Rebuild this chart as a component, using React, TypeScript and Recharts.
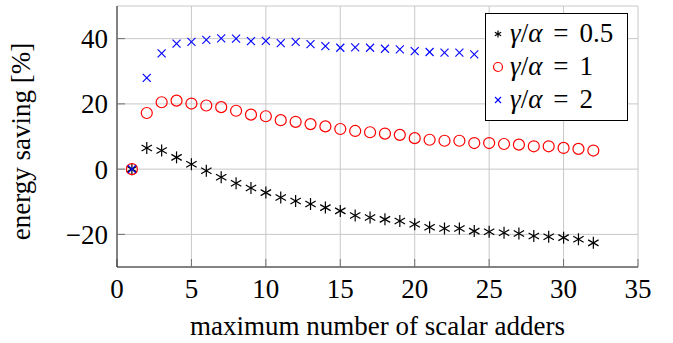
import { ScatterChart, Scatter, XAxis, YAxis, CartesianGrid, Legend } from 'recharts';

const FONT = 'Liberation Serif, Tinos, Times New Roman, Nimbus Roman, DejaVu Serif, serif';

// maximum number of scalar adders (x)
const adders = [1, 2, 3, 4, 5, 6, 7, 8, 9, 10, 11, 12, 13, 14, 15, 16, 17, 18, 19, 20, 21, 22, 23, 24, 25, 26, 27, 28, 29, 30, 31, 32];

// energy saving [%] for each gamma/alpha ratio
const ratio05 = [0, 6.5, 5.7, 3.6, 1.5, -0.5, -2.5, -4.3, -5.8, -7.2, -8.7, -9.8, -10.7, -11.8, -12.8, -14.2, -14.8, -15.4, -15.9, -16.9, -17.8, -18.2, -18.2, -19.0, -19.2, -19.5, -19.7, -20.5, -20.7, -21.0, -21.5, -22.6];
const ratio1 = [0, 17.2, 20.5, 21.0, 20.1, 19.5, 19.0, 17.9, 16.7, 16.2, 15.0, 14.5, 13.8, 13.1, 12.3, 11.7, 11.3, 10.9, 10.5, 9.5, 9.0, 8.7, 8.7, 8.0, 8.0, 7.7, 7.5, 7.0, 7.0, 6.5, 6.2, 5.7];
// points past x = 24 sit behind the legend box
const ratio2 = [0, 28.0, 35.5, 38.5, 39.0, 39.6, 40.1, 40.0, 39.2, 39.3, 38.6, 39.0, 38.3, 37.7, 37.2, 37.3, 37.2, 36.9, 36.7, 36.2, 35.9, 35.7, 35.7, 35.2];

const xTicks = [0, 5, 10, 15, 20, 25, 30, 35];
const yTicks = [-20, 0, 20, 40];
const ratioLabels = ['0.5', '1', '2'];

const toPoints = (vals: number[]) => vals.map((v, i) => ({ x: adders[i], y: v }));

const fmtY = (v: number) => (v < 0 ? '\u2212' + Math.abs(v) : String(v));

function Asterisk({ cx, cy, r = 6 }: any) {
  const lines = [90, 30, 150].map((deg) => {
    const a = (deg * Math.PI) / 180;
    const dx = r * Math.cos(a);
    const dy = r * Math.sin(a);
    return <line key={deg} x1={cx - dx} y1={cy - dy} x2={cx + dx} y2={cy + dy} stroke="#000" strokeWidth={1.2} />;
  });
  return <g>{lines}</g>;
}

function Ring({ cx, cy, r = 5.5 }: any) {
  return <circle cx={cx} cy={cy} r={r} fill="none" stroke="#ff0000" strokeWidth={1.2} />;
}

function Cross({ cx, cy, r = 4 }: any) {
  return (
    <g stroke="#0000ff" strokeWidth={1.1}>
      <line x1={cx - r} y1={cy - r} x2={cx + r} y2={cy + r} />
      <line x1={cx - r} y1={cy + r} x2={cx + r} y2={cy - r} />
    </g>
  );
}

function XLabel({ viewBox }: any) {
  const { x, y, width } = viewBox;
  return (
    <text x={x + width / 2} y={y + 68} textAnchor="middle" fontFamily={FONT} fontSize={27} fill="#000">
      maximum number of scalar adders
    </text>
  );
}

function YLabel({ viewBox }: any) {
  const { x, y, height } = viewBox;
  const cx = x + 30;
  const cy = y + height / 2 + 5;
  return (
    <text x={cx} y={cy} transform={`rotate(-90 ${cx} ${cy})`} textAnchor="middle" fontFamily={FONT} fontSize={27} fill="#000">
      energy saving [%]
    </text>
  );
}

function LegendBox() {
  const markers = [<Asterisk cx={6} cy={8} r={3.6} />, <Ring cx={6} cy={8} r={4.5} />, <Cross cx={6} cy={8} r={3} />];
  return (
    <div style={{ fontFamily: FONT, fontSize: 27, color: '#000', paddingTop: 3 }}>
      {ratioLabels.map((lab, i) => (
        <div key={lab} style={{ height: 33, display: 'flex', alignItems: 'center', paddingLeft: 6 }}>
          <svg width={12} height={16} style={{ display: 'block' }}>{markers[i]}</svg>
          <span style={{ marginLeft: 6, whiteSpace: 'nowrap', lineHeight: 1 }}>
            <i>γ</i>/<i>α</i>
            <span style={{ margin: '0 11px' }}>=</span>
            {lab}
          </span>
        </div>
      ))}
    </div>
  );
}

export default function App() {
  const tickStyle = { fontFamily: FONT, fontSize: 27, fill: '#000' };
  return (
    <div style={{ position: 'absolute', left: 0, top: 0, background: '#fff', fontFamily: FONT }}>
      <ScatterChart width={673} height={343} margin={{ top: 6, right: 35, bottom: 6, left: 0 }}>
        <CartesianGrid stroke="#c8c8c8" strokeWidth={1} />
        <XAxis
          type="number"
          dataKey="x"
          domain={[0, 35]}
          ticks={xTicks}
          interval={0}
          height={70}
          tick={tickStyle}
          tickSize={-8}
          tickMargin={20}
          tickLine={{ stroke: '#707070' }}
          axisLine={{ stroke: '#222' }}
          label={<XLabel />}
        />
        <XAxis
          xAxisId="top"
          orientation="top"
          type="number"
          domain={[0, 35]}
          ticks={xTicks}
          interval={0}
          height={0}
          tick={false}
          tickSize={-8}
          tickLine={{ stroke: '#707070' }}
          axisLine={{ stroke: '#222' }}
        />
        <YAxis
          type="number"
          dataKey="y"
          domain={[-30, 50]}
          ticks={yTicks}
          interval={0}
          width={117}
          tick={tickStyle}
          tickFormatter={fmtY}
          tickSize={-8}
          tickMargin={17}
          tickLine={{ stroke: '#707070' }}
          axisLine={{ stroke: '#222' }}
          label={<YLabel />}
        />
        <YAxis
          yAxisId="right"
          orientation="right"
          type="number"
          domain={[-30, 50]}
          ticks={yTicks}
          width={0}
          tick={false}
          tickSize={-8}
          tickLine={{ stroke: '#707070' }}
          axisLine={{ stroke: '#222' }}
        />
        <Scatter name="0.5" data={toPoints(ratio05)} shape={<Asterisk />} isAnimationActive={false} />
        <Scatter name="1" data={toPoints(ratio1)} shape={<Ring />} isAnimationActive={false} />
        <Scatter name="2" data={toPoints(ratio2)} shape={<Cross />} isAnimationActive={false} />
        <Legend
          layout="vertical"
          align="center"
          verticalAlign="middle"
          content={<LegendBox />}
          wrapperStyle={{
            left: 485,
            top: 13,
            width: 143,
            height: 108,
            border: '1px solid #000',
            background: '#fff',
            boxSizing: 'border-box',
          }}
        />
      </ScatterChart>
    </div>
  );
}
